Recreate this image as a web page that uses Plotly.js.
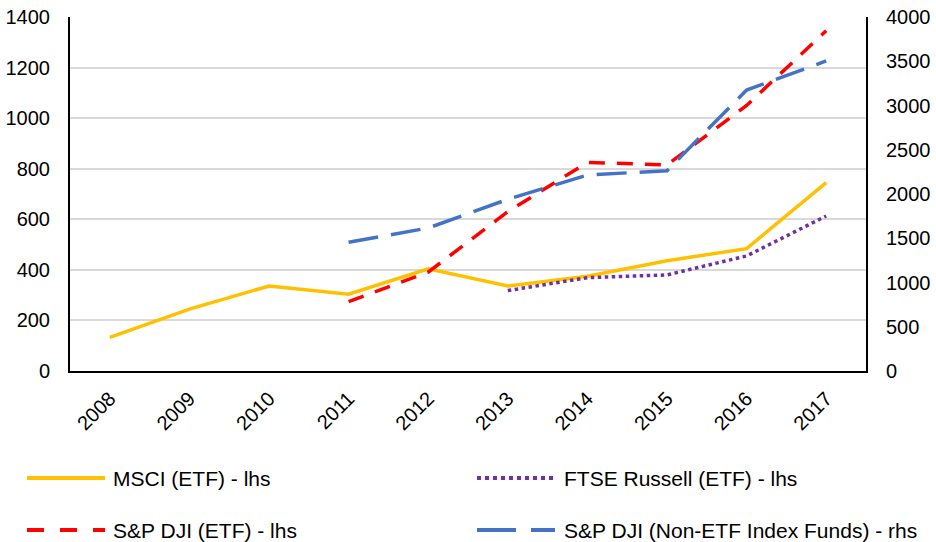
<!DOCTYPE html>
<html><head><meta charset="utf-8">
<script src="https://cdn.plot.ly/plotly-3.0.1.min.js"></script>
<style>html,body{margin:0;padding:0;background:#fff}#c{width:936px;height:542px}</style>
</head><body><div id="c"></div>
<script>
const years = ['2008','2009','2010','2011','2012','2013','2014','2015','2016','2017'];
const msci = [133, 245, 336, 304, 404, 336, 375, 436, 484, 745];
const ftse = [null, null, null, null, null, 318, 369, 380, 455, 613];
const spdjiEtf = [null, null, null, 274, 391, 630, 825, 815, 1050, 1346];
const spdjiNonEtf = [null, null, null, 1454, 1616, 1940, 2215, 2263, 3175, 3503];
const seriesNames = ['MSCI (ETF) - lhs', 'FTSE Russell (ETF) - lhs', 'S&P DJI (ETF) - lhs', 'S&P DJI (Non-ETF Index Funds) - rhs'];

const colors = ['#FFC000', '#7030A0', '#FF0000', '#4472C4'];
const dashes = ['solid', 'dot', '16px,12px', '30px,13px'];

const traces = [
  {x: years, y: msci, name: seriesNames[0], type: 'scatter', mode: 'lines',
   line: {color: colors[0], width: 3.5, dash: dashes[0]}},
  {x: years, y: ftse, name: seriesNames[1], type: 'scatter', mode: 'lines',
   line: {color: colors[1], width: 3.5, dash: dashes[1]}},
  {x: years, y: spdjiEtf, name: seriesNames[2], type: 'scatter', mode: 'lines',
   line: {color: colors[2], width: 3.5, dash: dashes[2]}},
  {x: years, y: spdjiNonEtf, name: seriesNames[3], type: 'scatter', mode: 'lines',
   yaxis: 'y2', line: {color: colors[3], width: 3.5, dash: dashes[3]}}
];

// Manual legend (paper coords: plot area x 70..866, y 17..371)
const W = 796, H = 354, L = 70, B = 371;
const px = v => (v - L) / W;
const py = v => (B - v) / H;
const legPos = [
  {x0: 27, x1: 105, tx: 111, y: 478},
  {x0: 477, x1: 555, tx: 562, y: 478},
  {x0: 27, x1: 105, tx: 111, y: 530},
  {x0: 477, x1: 555, tx: 562, y: 530}
];
const legDash = ['solid', 'dot', '17px,16px', '39px,15px'];
const shapes = [], annotations = [];
seriesNames.forEach((n, i) => {
  const p = legPos[i];
  shapes.push({type: 'line', xref: 'paper', yref: 'paper',
    x0: px(p.x0), x1: px(p.x1), y0: py(p.y), y1: py(p.y),
    line: {color: colors[i], width: 4, dash: legDash[i]}});
  annotations.push({xref: 'paper', yref: 'paper', x: px(p.tx), y: py(p.y),
    xanchor: 'left', yanchor: 'middle', text: n, showarrow: false,
    font: {size: 21, color: '#000'}});
});

const layout = {
  width: 936, height: 542,
  margin: {l: 70, r: 70, t: 17, b: 171},
  paper_bgcolor: '#fff', plot_bgcolor: '#fff',
  font: {family: 'Liberation Sans, Arial, sans-serif', size: 20, color: '#000'},
  showlegend: false,
  xaxis: {type: 'category', range: [-0.5, 9.5], tickangle: -45, showgrid: false,
    showline: true, linecolor: '#000', linewidth: 2, ticks: '', zeroline: false,
    tickfont: {size: 20}, automargin: false, ticklabelstandoff: 6},
  yaxis: {range: [0, 1400], dtick: 200, showgrid: true, gridcolor: '#d9d9d9', gridwidth: 2,
    showline: true, linecolor: '#000', linewidth: 2, ticks: '', zeroline: false,
    tickfont: {size: 20}, automargin: false, ticklabelstandoff: 14},
  yaxis2: {range: [0, 4000], dtick: 500, overlaying: 'y', side: 'right', showgrid: false,
    showline: true, linecolor: '#000', linewidth: 2, ticks: '', zeroline: false,
    tickfont: {size: 20}, automargin: false, ticklabelstandoff: 14},
  shapes: shapes,
  annotations: annotations
};

Plotly.newPlot('c', traces, layout, {displayModeBar: false, staticPlot: true});
</script></body></html>
